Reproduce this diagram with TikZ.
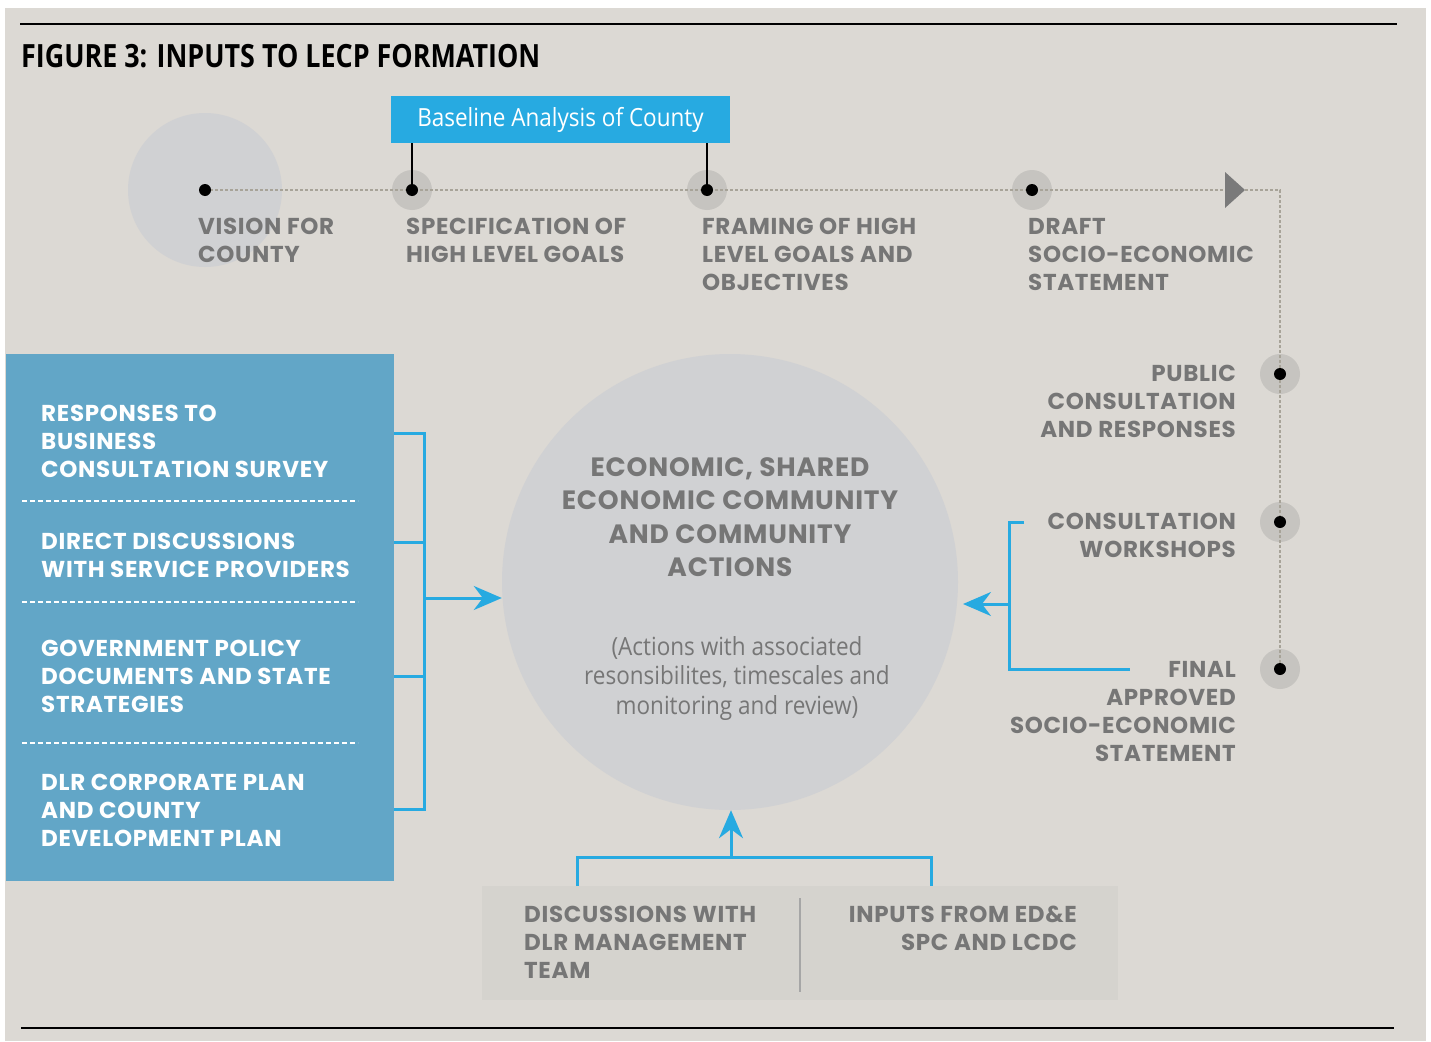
\documentclass[tikz,border=0pt]{standalone}
\usepackage{fontspec}
\usetikzlibrary{arrows.meta}
\newfontfamily\capfont[LetterSpace=3]{Poppins}
\newfontfamily\condfont[FakeStretch=0.84]{Open Sans}
\newfontfamily\semifont[FakeStretch=0.9]{Open Sans}
\definecolor{bg}{HTML}{DCD9D4}
\definecolor{circ}{HTML}{D0D1D3}
\definecolor{halo}{HTML}{C6C4C0}
\definecolor{lbluebox}{HTML}{62A6C7}
\definecolor{cyanc}{HTML}{27AAE1}
\definecolor{txtgray}{HTML}{767676}
\definecolor{botbox}{HTML}{D5D3CE}
\definecolor{dashgray}{HTML}{A7A398}
\definecolor{arrgray}{HTML}{7A7A7A}
\tikzset{
  caplab/.style={font=\capfont\bfseries\fontsize{23}{28}\selectfont, text=txtgray, inner sep=0pt},
  toplab/.style={caplab, align=left, anchor=north west},
  rightlab/.style={caplab, align=right, anchor=north east},
  boxlab/.style={caplab, text=white, align=left, anchor=north west},
  halodot/.style={circle, fill=halo, minimum size=40pt, inner sep=0pt},
  blackdot/.style={circle, fill=black, minimum size=12pt, inner sep=0pt},
  timeline/.style={dashgray, line width=1.1pt, dash pattern=on 3pt off 2pt},
  blueline/.style={cyanc, line width=3pt},
  bluearrow/.style={blueline, -{Stealth[length=28pt, width=24pt, inset=9pt]}},
  whitedash/.style={white, line width=1.2pt, dash pattern=on 5pt off 3pt},
}
\begin{document}
\begin{tikzpicture}[x=1pt, y=-1pt]
\useasboundingbox (0,0) rectangle (1431,1041);
\fill[white] (0,0) rectangle (1431,1041);
\fill[bg] (5,8) rectangle (1426,1041);
% rules
\draw[black, line width=1.5pt] (20,24) -- (1397,24);
\draw[black, line width=1.5pt] (21,1028) -- (1394,1028);
% title
\node[anchor=north west, inner sep=0pt, font=\condfont\bfseries\fontsize{32}{36}\selectfont] (title) at (21,44) {FIGURE 3: INPUTS TO LECP FORMATION};
% big faint circle
\node[circle, fill=circ, minimum size=154pt, inner sep=0pt] (visc) at (205,190) {};
% halos
\node[halodot] (h2) at (412,190) {};
\node[halodot] (h3) at (707,190) {};
\node[halodot] (h4) at (1032,190) {};
\node[halodot] (h5) at (1280,374) {};
\node[halodot] (h6) at (1280,522) {};
\node[halodot] (h7) at (1280,669) {};
\coordinate (corner) at (1280,190);
% timeline
\draw[timeline] (205,190) -- (corner) -- (h7.center);
% arrow triangle
\fill[arrgray] (1225,172) -- (1245,190) -- (1225,208) -- cycle;
% dots
\node[blackdot] (d1) at (205,190) {};
\node[blackdot] (d2) at (h2) {};
\node[blackdot] (d3) at (h3) {};
\node[blackdot] (d4) at (h4) {};
\node[blackdot] (d5) at (h5) {};
\node[blackdot] (d6) at (h6) {};
\node[blackdot] (d7) at (h7) {};
% baseline box
\node[fill=cyanc, minimum width=339pt, minimum height=47pt, inner sep=0pt, text=white, font=\semifont\fontsize{25}{28}\selectfont] (base) at (560.5,119.5) {Baseline Analysis of County};
\draw[black, line width=1.2pt] (base.south -| d2) -- (d2.center);
\draw[black, line width=1.2pt] (base.south -| d3) -- (d3.center);
% top labels
\node[toplab] (lvision) at (198,218) {VISION FOR\\COUNTY};
\node[toplab] (lspec) at (406,218) {SPECIFICATION OF\\HIGH LEVEL GOALS};
\node[toplab] (lfram) at (702,218) {FRAMING OF HIGH\\LEVEL GOALS AND\\OBJECTIVES};
\node[toplab] (ldraft) at (1028,218) {DRAFT\\SOCIO-ECONOMIC\\STATEMENT};
% right labels
\node[rightlab] (lpub) at (1236,365) {PUBLIC\\CONSULTATION\\AND RESPONSES};
\node[rightlab] (lwork) at (1236,513) {CONSULTATION\\WORKSHOPS};
\node[rightlab] (lfinal) at (1236,661) {FINAL\\APPROVED\\SOCIO-ECONOMIC\\STATEMENT};
% central circle
\node[circle, fill=circ, minimum size=456pt, inner sep=0pt] (center) at (730,582) {};
\node[caplab, align=center, anchor=north, font=\capfont\bfseries\fontsize{26.5}{33.5}\selectfont] (ctitle) at (730,457) {ECONOMIC, SHARED\\ECONOMIC COMMUNITY\\AND COMMUNITY\\ACTIONS};
\node[inner sep=0pt, align=center, anchor=north, text=txtgray, font=\semifont\fontsize{25}{29.5}\selectfont] (csub) at (737,636) {(Actions with associated\\resonsibilites, timescales and\\monitoring and review)};
% left box
\node[fill=lbluebox, minimum width=388pt, minimum height=527pt, inner sep=0pt] (lbox) at (200,617.5) {};
\node[boxlab] (b1) at (41,405) {RESPONSES TO\\BUSINESS\\CONSULTATION SURVEY};
\node[boxlab] (b2) at (41,533) {DIRECT DISCUSSIONS\\WITH SERVICE PROVIDERS};
\node[boxlab] (b3) at (41,640) {GOVERNMENT POLICY\\DOCUMENTS AND STATE\\STRATEGIES};
\node[boxlab] (b4) at (41,774) {DLR CORPORATE PLAN\\AND COUNTY\\DEVELOPMENT PLAN};
\draw[whitedash] (22,501) -- (358,501);
\draw[whitedash] (22,602) -- (358,602);
\draw[whitedash] (22,743) -- (358,743);
% left bracket
\coordinate (lj) at (424,598);
\draw[blueline] (lbox.east |- {(0,433)}) -- (424,433) -- (424,809) -- (lbox.east |- {(0,809)});
\draw[blueline] (lbox.east |- {(0,542)}) -- (424,542);
\draw[blueline] (lbox.east |- {(0,676)}) -- (424,676);
\draw[bluearrow] (lj) -- (center.west |- lj);
% right bracket
\coordinate (rj) at (1009,604);
\coordinate (rtip) at (963,604);
\draw[blueline] (1024,522) -- (1009,522) -- (1009,669) -- (1130,669);
\draw[bluearrow] (rj) -- (rtip);
% bottom box
\node[fill=botbox, minimum width=636pt, minimum height=114pt, inner sep=0pt] (bbox) at (800,943) {};
\draw[color=black!35, line width=2.5pt] (800,898) -- (800,992);
\node[toplab] (bl) at (524,906) {DISCUSSIONS WITH\\DLR MANAGEMENT\\TEAM};
\node[rightlab] (br) at (1077,906) {INPUTS FROM ED\&E\\SPC AND LCDC};
% bottom bracket
\coordinate (bj) at (731,857);
\draw[blueline] (577,886) -- (577,857) -- (931,857) -- (931,886);
\draw[bluearrow] (bj) -- (center.south -| bj);
\end{tikzpicture}
\end{document}
